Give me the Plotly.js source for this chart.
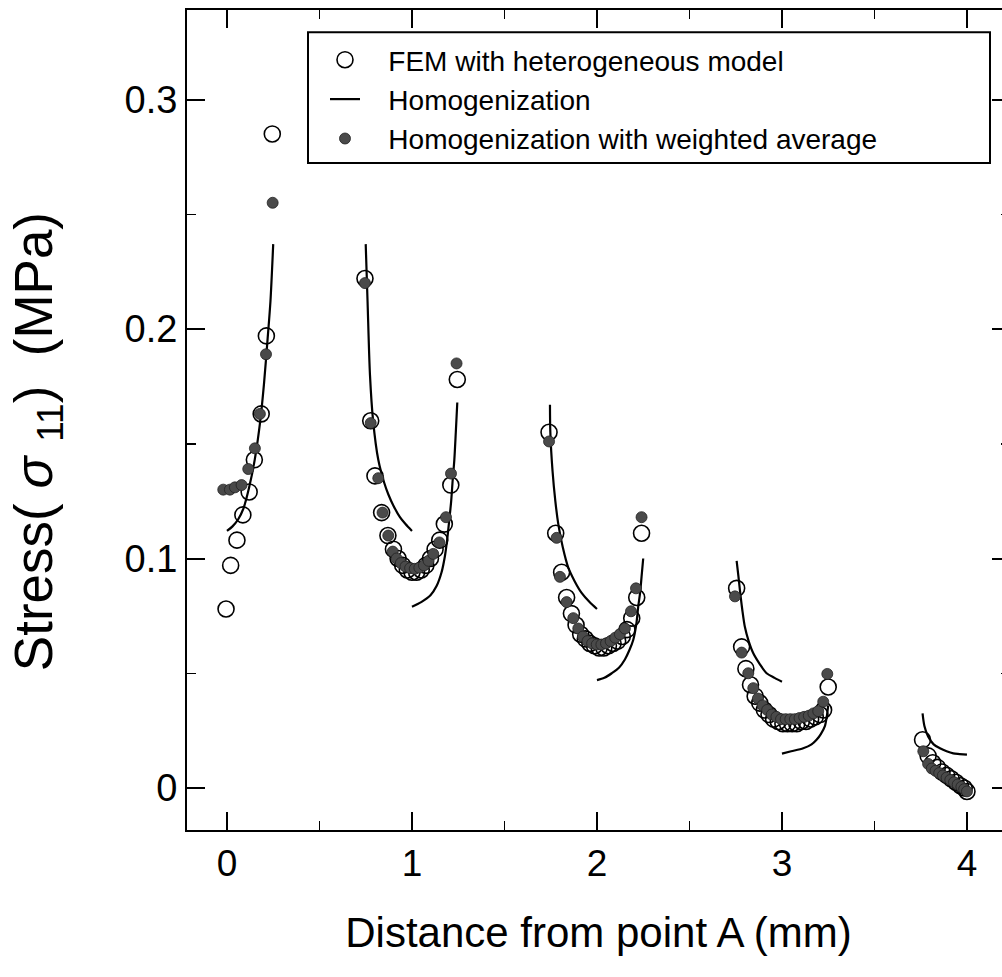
<!DOCTYPE html>
<html>
<head>
<meta charset="utf-8">
<script src="https://cdn.plot.ly/plotly-3.0.1.min.js"></script>
<style>
html, body { margin: 0; padding: 0; background: #fff; overflow: hidden; width: 1002px; }
#chart { width: 1022px; height: 977px; }
</style>
</head>
<body>
<div id="chart"></div>
<script>
// FEM with heterogeneous model (open circles)
const femX = [
  -0.005, 0.02, 0.054, 0.086, 0.12, 0.148, 0.185, 0.213, 0.245,
  0.746, 0.777, 0.80, 0.836, 0.87, 0.90, 0.925, 0.95, 0.975, 1.0, 1.025, 1.05, 1.075, 1.10, 1.125, 1.15, 1.175, 1.21, 1.245,
  1.741, 1.777, 1.809, 1.836, 1.862, 1.887, 1.912, 1.937, 1.962, 1.987, 2.012, 2.037, 2.062, 2.087, 2.112, 2.137, 2.162, 2.188, 2.215, 2.241,
  2.755, 2.782, 2.805, 2.83, 2.855, 2.88, 2.905, 2.93, 2.955, 2.98, 3.005, 3.03, 3.055, 3.08, 3.105, 3.13, 3.155, 3.18, 3.205, 3.225, 3.25,
  3.76, 3.79, 3.815, 3.84, 3.865, 3.89, 3.915, 3.94, 3.965, 3.985, 4.0
];
const femY = [
  0.078, 0.097, 0.108, 0.119, 0.129, 0.143, 0.163, 0.197, 0.285,
  0.222, 0.160, 0.136, 0.120, 0.110, 0.104, 0.100, 0.097, 0.095, 0.094, 0.094, 0.095, 0.097, 0.100, 0.104, 0.108, 0.115, 0.132, 0.178,
  0.155, 0.111, 0.094, 0.083, 0.076, 0.071, 0.067, 0.065, 0.063, 0.062, 0.061, 0.061, 0.062, 0.063, 0.064, 0.066, 0.069, 0.074, 0.083, 0.111,
  0.087, 0.0615, 0.052, 0.045, 0.040, 0.037, 0.034, 0.032, 0.030, 0.029, 0.028, 0.028, 0.028, 0.028, 0.029, 0.029, 0.030, 0.031, 0.032, 0.034, 0.044,
  0.021, 0.014, 0.011, 0.009, 0.007, 0.0055, 0.004, 0.0025, 0.001, 0.0, -0.0015
];

// Homogenization with weighted average (filled circles)
const wavgX = [
  -0.02, 0.016, 0.043, 0.079, 0.115, 0.151, 0.178, 0.211, 0.247,
  0.746, 0.777, 0.818, 0.841, 0.872, 0.896, 0.917, 0.94, 0.965, 0.99, 1.015, 1.04, 1.065, 1.09, 1.115, 1.148, 1.184, 1.211, 1.241,
  1.741, 1.782, 1.80, 1.836, 1.872, 1.899, 1.924, 1.949, 1.974, 1.999, 2.024, 2.049, 2.074, 2.099, 2.124, 2.151, 2.184, 2.211, 2.241,
  2.746, 2.782, 2.818, 2.845, 2.87, 2.895, 2.92, 2.945, 2.97, 2.995, 3.02, 3.045, 3.07, 3.095, 3.12, 3.145, 3.17, 3.196, 3.223, 3.245,
  3.764, 3.79, 3.81, 3.83, 3.85, 3.87, 3.89, 3.91, 3.93, 3.95, 3.97, 3.985, 4.0
];
const wavgY = [
  0.130, 0.130, 0.131, 0.132, 0.139, 0.148, 0.163, 0.189, 0.255,
  0.220, 0.159, 0.135, 0.120, 0.110, 0.103, 0.100, 0.098, 0.0965, 0.0958, 0.0955, 0.096, 0.097, 0.099, 0.102, 0.107, 0.118, 0.137, 0.185,
  0.151, 0.109, 0.092, 0.081, 0.074, 0.0695, 0.066, 0.064, 0.063, 0.0625, 0.0625, 0.063, 0.064, 0.0655, 0.067, 0.0695, 0.077, 0.087, 0.118,
  0.0835, 0.059, 0.050, 0.0435, 0.039, 0.036, 0.034, 0.032, 0.031, 0.030, 0.030, 0.030, 0.030, 0.0305, 0.031, 0.0315, 0.0325, 0.0335, 0.0376, 0.0497,
  0.016, 0.0105, 0.0085, 0.0075, 0.0065, 0.0055, 0.0045, 0.0035, 0.0025, 0.0015, 0.0005, -0.0005, -0.0015
];

// Homogenization (solid line), one branch per array
const homog1X = [0.0, 0.03, 0.06, 0.09, 0.12, 0.15, 0.18, 0.2, 0.22, 0.235, 0.25];
const homog1Y = [0.112, 0.114, 0.117, 0.122, 0.131, 0.143, 0.160, 0.176, 0.196, 0.212, 0.237];
const homog2aX = [0.75, 0.76, 0.773, 0.79, 0.818, 0.85, 0.872, 0.9, 0.935, 0.965, 1.0];
const homog2aY = [0.237, 0.212, 0.180, 0.160, 0.143, 0.133, 0.128, 0.123, 0.118, 0.115, 0.112];
const homog2bX = [1.0, 1.05, 1.1, 1.133, 1.16, 1.178, 1.19, 1.202, 1.212, 1.22, 1.229, 1.237, 1.245];
const homog2bY = [0.079, 0.081, 0.084, 0.088, 0.094, 0.101, 0.108, 0.117, 0.125, 0.134, 0.143, 0.155, 0.168];
const homog3aX = [1.746, 1.748, 1.76, 1.775, 1.791, 1.815, 1.845, 1.88, 1.917, 1.96, 2.0];
const homog3aY = [0.167, 0.155, 0.138, 0.125, 0.115, 0.105, 0.096, 0.090, 0.085, 0.081, 0.078];
const homog3bX = [2.0, 2.04, 2.08, 2.12, 2.151, 2.175, 2.196, 2.212, 2.223, 2.233, 2.241, 2.25];
const homog3bY = [0.047, 0.048, 0.050, 0.0525, 0.056, 0.060, 0.0645, 0.071, 0.079, 0.085, 0.092, 0.100];
const homog4aX = [2.755, 2.765, 2.773, 2.785, 2.8, 2.82, 2.845, 2.88, 2.917, 2.96, 3.0];
const homog4aY = [0.099, 0.092, 0.086, 0.078, 0.070, 0.064, 0.0587, 0.054, 0.050, 0.048, 0.0463];
const homog4bX = [3.0, 3.05, 3.115, 3.16, 3.187, 3.21, 3.232, 3.242, 3.25];
const homog4bY = [0.015, 0.016, 0.0173, 0.019, 0.021, 0.0235, 0.027, 0.031, 0.036];
const homog5X = [3.76, 3.77, 3.79, 3.82, 3.854, 3.89, 3.926, 3.96, 4.0];
const homog5Y = [0.0325, 0.027, 0.0224, 0.019, 0.0173, 0.016, 0.0151, 0.0148, 0.0145];

const xTickVals = [0, 1, 2, 3, 4];
const xTickText = ['0', '1', '2', '3', '4'];
const yTickVals = [0, 0.1, 0.2, 0.3];
const yTickText = ['0', '0.1', '0.2', '0.3'];
const xMinorVals = [0.5, 1.5, 2.5, 3.5];
const yMinorVals = [0.05, 0.15, 0.25];

const seriesNames = ['FEM with heterogeneous model', 'Homogenization', 'Homogenization with weighted average'];
const xTitle = 'Distance from point A (mm)';
const yTitle = 'Stress(\u00a0<i>σ</i>\u00a0<sub>11</sub>)\u00a0\u00a0(MPa)';

// join the line branches with gaps
const branchesX = [homog1X, homog2aX, homog2bX, homog3aX, homog3bX, homog4aX, homog4bX, homog5X];
const branchesY = [homog1Y, homog2aY, homog2bY, homog3aY, homog3bY, homog4aY, homog4bY, homog5Y];
const lineX = [], lineY = [];
branchesX.forEach((bx, i) => {
  if (i > 0) { lineX.push(null); lineY.push(null); }
  bx.forEach((v, j) => { lineX.push(v); lineY.push(branchesY[i][j]); });
});

const FONT = 'Liberation Sans, Arial, Helvetica, sans-serif';
const NB = '\u00a0\u00a0\u00a0';
const Y_RANGE = [-0.0183, 0.339];

const traces = [
  {
    type: 'scatter', mode: 'markers', name: NB + seriesNames[0],
    x: femX, y: femY,
    marker: { symbol: 'circle-open', size: 16, color: '#000', line: { width: 1.6, color: '#000' } }
  },
  {
    type: 'scatter', mode: 'lines', name: NB + seriesNames[1],
    x: lineX, y: lineY, connectgaps: false,
    line: { color: '#000', width: 2.2, shape: 'spline', smoothing: 0.8 }
  },
  {
    type: 'scatter', mode: 'markers', name: NB + seriesNames[2],
    x: wavgX, y: wavgY,
    marker: { symbol: 'circle', size: 11, color: '#4a4a4a', line: { width: 0.8, color: '#222' } }
  }
];

const tickStyle = { ticks: 'inside', ticklen: 18, tickwidth: 2, tickcolor: '#000' };
const minorStyle = { ticks: 'inside', ticklen: 9, tickwidth: 1.5, tickcolor: '#000' };

// plot area: 187 px to 1010 px (right border just outside the 1002 px window)
const W = 1022, ML = 187, MR = 12;
const PW = W - ML - MR;
const px = p => (p - ML) / PW;   // page pixel -> paper fraction (layout helper)

const layout = {
  width: W, height: 977,
  margin: { l: ML, r: MR, t: 10, b: 147 },
  paper_bgcolor: '#fff', plot_bgcolor: '#fff',
  font: { family: FONT, color: '#000' },
  showlegend: true,
  legend: {
    x: px(325), y: 0.9695, xanchor: 'left', yanchor: 'top',
    bgcolor: 'rgba(0,0,0,0)', borderwidth: 0,
    font: { family: FONT, size: 28, color: '#000' },
    itemwidth: 30, tracegroupgap: 0
  },
  shapes: [{
    type: 'rect', xref: 'paper', yref: 'paper',
    x0: px(308), x1: px(990), y0: 0.8134, y1: 0.973,
    line: { color: '#000', width: 2 }, fillcolor: '#fff', layer: 'above'
  }],
  annotations: [{
    text: yTitle, xref: 'paper', yref: 'paper',
    x: px(37), y: 0.473, xanchor: 'center', yanchor: 'middle',
    textangle: -90, showarrow: false,
    font: { family: FONT, size: 53, color: '#000' }
  }],
  xaxis: Object.assign({
    range: [-0.216, -0.216 + PW / 185],
    tickvals: xTickVals, ticktext: xTickText,
    minor: Object.assign({ tickvals: xMinorVals }, minorStyle),
    showline: true, linewidth: 2, linecolor: '#000', mirror: 'ticks',
    showgrid: false, zeroline: false,
    tickfont: { family: FONT, size: 37, color: '#000' },
    title: { text: xTitle, font: { family: FONT, size: 42, color: '#000' }, standoff: 34 }
  }, tickStyle),
  yaxis: Object.assign({
    range: Y_RANGE,
    tickvals: yTickVals, ticktext: yTickText,
    minor: Object.assign({ tickvals: yMinorVals }, minorStyle),
    showline: true, linewidth: 2, linecolor: '#000', mirror: 'ticks',
    showgrid: false, zeroline: false,
    tickfont: { family: FONT, size: 38, color: '#000' }
  }, tickStyle)
};

Plotly.newPlot('chart', traces, layout, { displayModeBar: false, staticPlot: true });
</script>
</body>
</html>
